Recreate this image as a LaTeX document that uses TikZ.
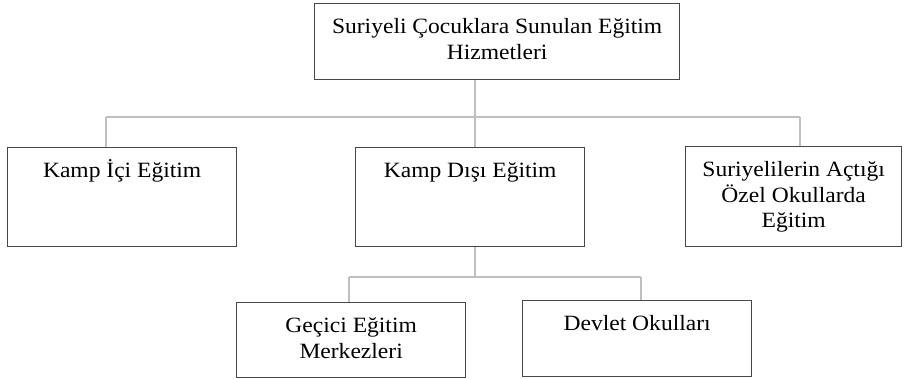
\documentclass[tikz,border=0pt]{standalone}
\usepackage{fontspec}
\setmainfont[FakeStretch=1.08]{Liberation Serif}
\newcommand{\boxtext}[3]{\parbox[c][#2][t]{#1}{\centering\rule{0pt}{30pt}#3\par}}
\begin{document}
\begin{tikzpicture}[x=1pt,y=-1pt,
  box/.style={draw=black!72, line width=1.3pt, inner sep=0pt, anchor=north west,
    font=\fontsize{21.8pt}{25.5pt}\selectfont},
  conn/.style={draw=black!25, line width=1.4pt}]
\useasboundingbox (0,0) rectangle (907,379);
% junction points
\coordinate (j1) at (475,117);
\coordinate (dL) at (106,117);
\coordinate (dR) at (800,117);
\coordinate (j2) at (475,277);
\coordinate (eL) at (349,277);
\coordinate (eR) at (641,277);
% boxes
\node[box] (top) at (314,3) {\boxtext{365pt}{76pt}{Suriyeli Çocuklara Sunulan Eğitim\\Hizmetleri}};
\node[box] (kic) at (7,147) {\boxtext{229pt}{99pt}{Kamp İçi Eğitim}};
\node[box] (kdi) at (355,147) {\boxtext{229pt}{99pt}{Kamp Dışı Eğitim}};
\node[box] (ozel) at (685,146) {\boxtext{216pt}{100pt}{Suriyelilerin Açtığı\\Özel Okullarda\\Eğitim}};
\node[box] (gem) at (236,302) {\boxtext{229pt}{75pt}{Geçici Eğitim\\Merkezleri}};
\node[box] (dev) at (522,300) {\boxtext{229pt}{76pt}{Devlet Okulları}};
% lines
\draw[conn] (j1 |- top.south) -- (j1);
\draw[conn] (dL) -- (dR);
\draw[conn] (dL) -- (dL |- kic.north);
\draw[conn] (j1) -- (j1 |- kdi.north);
\draw[conn] (dR) -- (dR |- ozel.north);
\draw[conn] (j2 |- kdi.south) -- (j2);
\draw[conn] (eL) -- (eR);
\draw[conn] (eL) -- (eL |- gem.north);
\draw[conn] (eR) -- (eR |- dev.north);
\end{tikzpicture}
\end{document}
